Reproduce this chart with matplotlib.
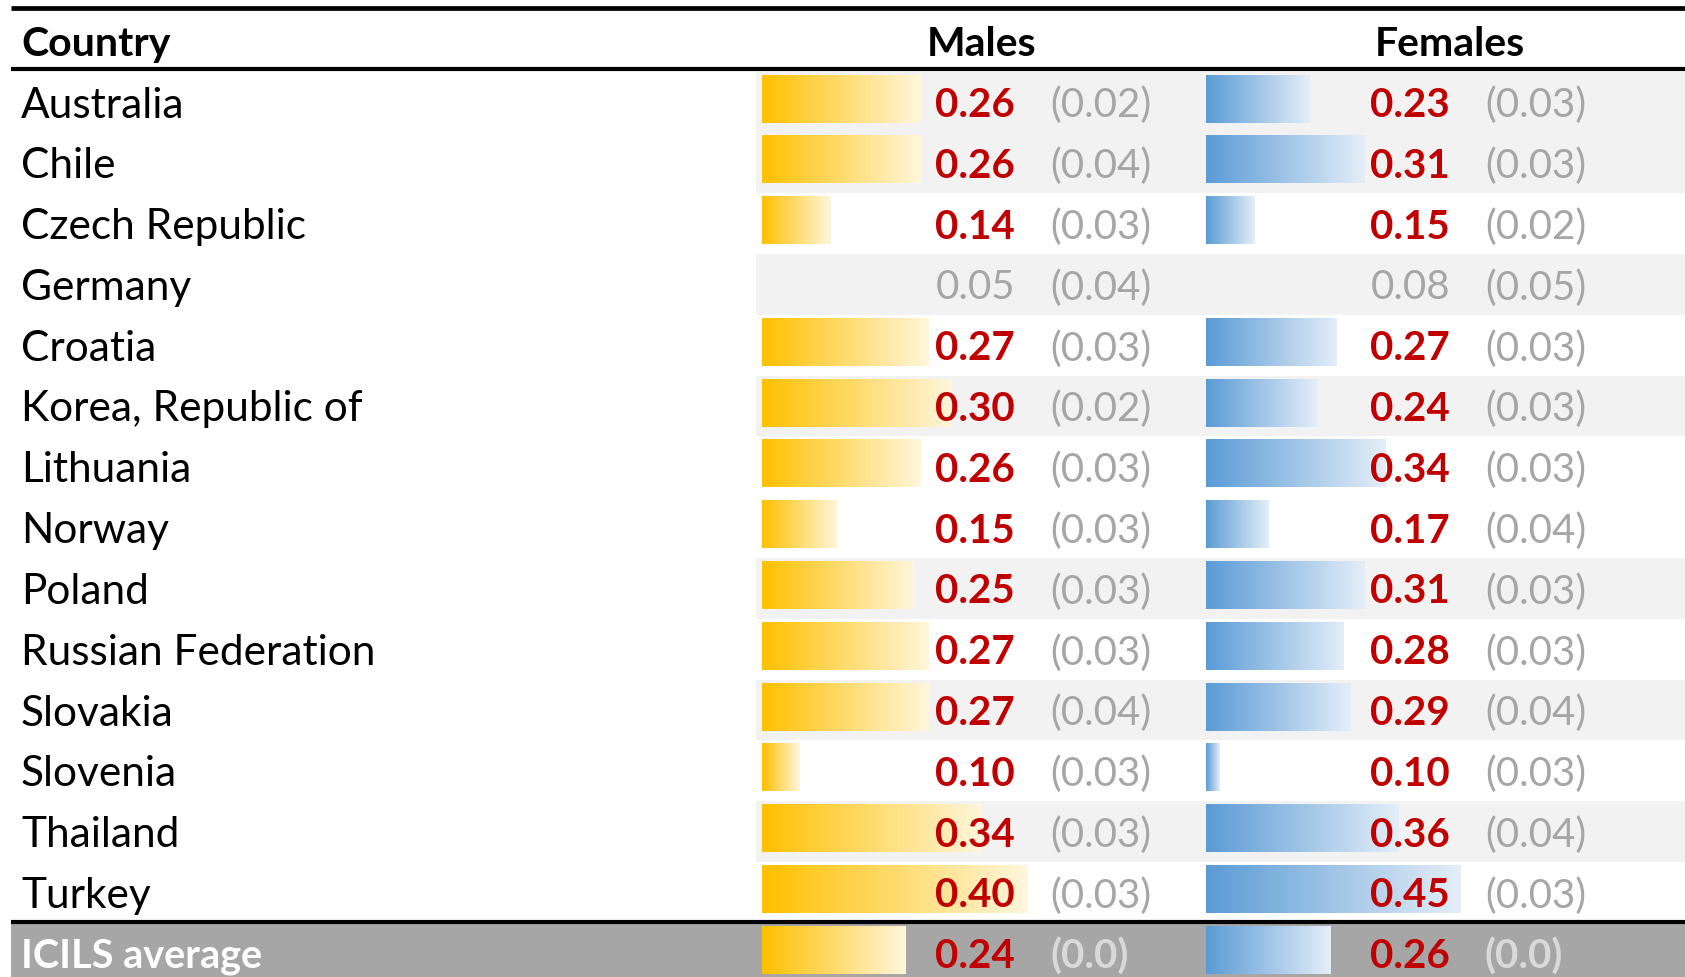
import matplotlib
matplotlib.use("Agg")
import matplotlib.pyplot as plt
import numpy as np
from matplotlib.colors import LinearSegmentedColormap
from matplotlib.patches import Rectangle

plt.rcParams['font.family'] = ['Lato', 'DejaVu Sans']

# data
countries = ["Australia", "Chile", "Czech Republic", "Germany", "Croatia",
             "Korea, Republic of", "Lithuania", "Norway", "Poland",
             "Russian Federation", "Slovakia", "Slovenia", "Thailand", "Turkey"]
males = [0.26, 0.26, 0.14, 0.05, 0.27, 0.30, 0.26, 0.15, 0.25, 0.27, 0.27, 0.10, 0.34, 0.40]
males_se = [0.02, 0.04, 0.03, 0.04, 0.03, 0.02, 0.03, 0.03, 0.03, 0.03, 0.04, 0.03, 0.03, 0.03]
females = [0.23, 0.31, 0.15, 0.08, 0.27, 0.24, 0.34, 0.17, 0.31, 0.28, 0.29, 0.10, 0.36, 0.45]
females_se = [0.03, 0.03, 0.02, 0.05, 0.03, 0.03, 0.03, 0.04, 0.03, 0.03, 0.04, 0.03, 0.04, 0.03]
significant = [True, True, True, False, True, True, True, True, True, True, True, True, True, True]
shaded = [True, True, False, True, False, True, False, False, True, False, True, False, True, False]
avg_label = "ICILS average"
avg_males, avg_males_se = 0.24, "(0.0)"
avg_females, avg_females_se = 0.26, "(0.0)"

# layout (pixels of the 1685x977 canvas)
W, H = 1685, 977
row0, pitch = 102, 60.8
n = len(countries)
ytop = -row0 / pitch
ybot = (H - row0) / pitch

RED = "#C00000"
GREY = "#A6A6A6"
male_cmap = LinearSegmentedColormap.from_list("m", ["#FFC000", "#FFF6DC"])
female_cmap = LinearSegmentedColormap.from_list("f", ["#5B9BD5", "#E4EEF8"])

fig = plt.figure(figsize=(W / 100, H / 100), dpi=100)
ax = fig.add_axes([0, 0, 1, 1])
ax.set_xlim(0, W)
ax.set_ylim(ybot, ytop)
ax.axis('off')

# shaded rows
for i, s in enumerate(shaded):
    if s:
        ax.add_patch(Rectangle((756, i - 0.5), W - 756, 1, facecolor="#F2F2F2", lw=0))
# average row band
ax.add_patch(Rectangle((11, n - 0.5), W - 11, ybot - n + 0.5, facecolor="#A6A6A6", lw=0))

# rules
ax.plot([11, W], [-1.54, -1.54], color="black", lw=3.4, solid_capstyle='butt')
ax.plot([11, W], [-0.55, -0.55], color="black", lw=3.0, solid_capstyle='butt')
ax.plot([11, W], [n - 0.52, n - 0.52], color="black", lw=3.0, solid_capstyle='butt')


def bar_axes(x0, x1, vals):
    b = fig.add_axes([x0 / W, 0, (x1 - x0) / W, 1])
    b.set_xlim(min(vals), max(vals))
    b.set_ylim(ybot, ytop)
    b.axis('off')
    b.patch.set_alpha(0)
    return b


axm = bar_axes(762, 1027, males)
axf = bar_axes(1206, 1461, females)
grad = np.linspace(0, 1, 256).reshape(1, -1)
off = -0.05
for b, vals, avg, cmap in [(axm, males, avg_males, male_cmap), (axf, females, avg_females, female_cmap)]:
    vmin = min(vals)
    for i, (v, sig) in enumerate(zip(vals + [avg], significant + [True])):
        if sig and v > vmin:
            b.imshow(grad, extent=(vmin, v, i + off + 0.39, i + off - 0.39), cmap=cmap,
                     aspect='auto', interpolation='bilinear')
    b.set_xlim(min(vals), max(vals))
    b.set_ylim(ybot, ytop)

# text layer on top
axt = fig.add_axes([0, 0, 1, 1])
axt.set_xlim(0, W)
axt.set_ylim(ybot, ytop)
axt.axis('off')
axt.patch.set_alpha(0)

fs = 30.5
fb = 29.5
fn = 29
axt.text(21, -1, "Country", fontsize=fb, fontweight='bold', va='center_baseline', ha='left')
axt.text(982, -1, "Males", fontsize=fb, fontweight='bold', va='center_baseline', ha='center')
axt.text(1450, -1, "Females", fontsize=fb, fontweight='bold', va='center_baseline', ha='center')

rows = list(zip(countries, males, males_se, females, females_se, significant))
for i, (c, m, mse, f, fse, sig) in enumerate(rows):
    axt.text(21, i, c, fontsize=fs, va='center_baseline', ha='left')
    col = RED if sig else GREY
    wt = 'bold' if sig else 'normal'
    axt.text(1015, i, f"{m:.2f}", fontsize=fn, color=col, fontweight=wt, va='center_baseline', ha='right')
    axt.text(1050, i, f"({mse:.2f})", fontsize=fn, color=GREY, va='center_baseline', ha='left')
    axt.text(1450, i, f"{f:.2f}", fontsize=fn, color=col, fontweight=wt, va='center_baseline', ha='right')
    axt.text(1485, i, f"({fse:.2f})", fontsize=fn, color=GREY, va='center_baseline', ha='left')

axt.text(21, n, avg_label, fontsize=28.5, color="white", fontweight='bold', va='center_baseline', ha='left')
axt.text(1015, n, f"{avg_males:.2f}", fontsize=fn, color=RED, fontweight='bold', va='center_baseline', ha='right')
axt.text(1050, n, avg_males_se, fontsize=fn, color="#D9D9D9", fontweight='bold', va='center_baseline', ha='left')
axt.text(1450, n, f"{avg_females:.2f}", fontsize=fn, color=RED, fontweight='bold', va='center_baseline', ha='right')
axt.text(1485, n, avg_females_se, fontsize=fn, color="#D9D9D9", fontweight='bold', va='center_baseline', ha='left')

fig.savefig("out.png", dpi=100)
